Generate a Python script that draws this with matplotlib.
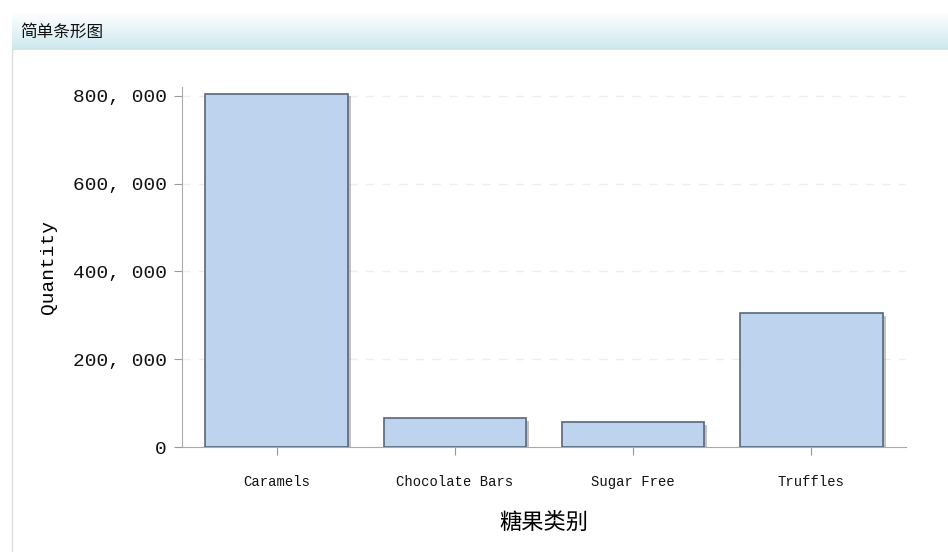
import numpy as np
import matplotlib.pyplot as plt
import matplotlib.patheffects as pe
from matplotlib.ticker import FuncFormatter

categories = ['Caramels', 'Chocolate Bars', 'Sugar Free', 'Truffles']
quantity = [805000, 66000, 57000, 305000]
yticks = [0, 200000, 400000, 600000, 800000]

cjk = ['Noto Sans CJK SC', 'DejaVu Sans']
mono = 'Liberation Mono'

fig = plt.figure(figsize=(9.48, 5.52), dpi=100)

# title strip with gradient
hdr = fig.add_axes([12 / 948, 1 - 50 / 552, 1 - 12 / 948, 38 / 552])
grad = np.linspace(0, 1, 50).reshape(-1, 1)
top = np.array([1.0, 1.0, 1.0])
bot = np.array([0.80, 0.91, 0.93])
img = top + (bot - top) * grad[..., None]
hdr.imshow(img, aspect='auto', extent=[0, 1, 0, 1], origin='upper')
hdr.set_axis_off()
fig.text(20 / 948, 1 - 32 / 552, '简单条形图', family=cjk, fontsize=12,
         va='center', ha='left', color='#111111')
# left frame line
fig.add_artist(plt.Line2D([12 / 948, 12 / 948], [0, 1 - 50 / 552],
                          color='#dddddd', lw=1))

ax = fig.add_axes([182 / 948, 1 - 447 / 552, 724 / 948, 360 / 552])
x = np.arange(len(categories))
bars = ax.bar(x, quantity, width=0.8, color='#bed3ee', edgecolor='#58677a',
              linewidth=1.2, zorder=3)
for b in bars:
    b.set_path_effects([pe.SimplePatchShadow(offset=(2, -2), shadow_rgbFace='#888888', alpha=0.5),
                        pe.Normal()])

ax.set_xlim(-0.53, 3.53)
ax.set_ylim(0, 820000)
ax.set_yticks(yticks)
ax.yaxis.set_major_formatter(FuncFormatter(lambda v, p: f'{int(v):,}'.replace(',', ', ')))
ax.set_xticks(x)
ax.set_xticklabels(categories, family=mono, fontsize=10)
for lab in ax.get_yticklabels():
    lab.set_family(mono)
    lab.set_fontsize(14)

ax.grid(axis='y', color='#eeeeee', linestyle=(0, (6, 6)), lw=1, zorder=0)
for s in ['top', 'right']:
    ax.spines[s].set_visible(False)
ax.spines['left'].set_color('#aaaaaa')
ax.spines['bottom'].set_color('#aaaaaa')
ax.tick_params(axis='both', color='#999999', length=6, labelcolor='#111111')
ax.tick_params(axis='y', pad=5)
ax.tick_params(axis='x', pad=14)

ax.set_ylabel('Quantity', family=mono, fontsize=14, labelpad=11)
ax.set_xlabel('糖果类别', family=cjk, fontsize=16, labelpad=16)

fig.savefig('out.png', dpi=100)
